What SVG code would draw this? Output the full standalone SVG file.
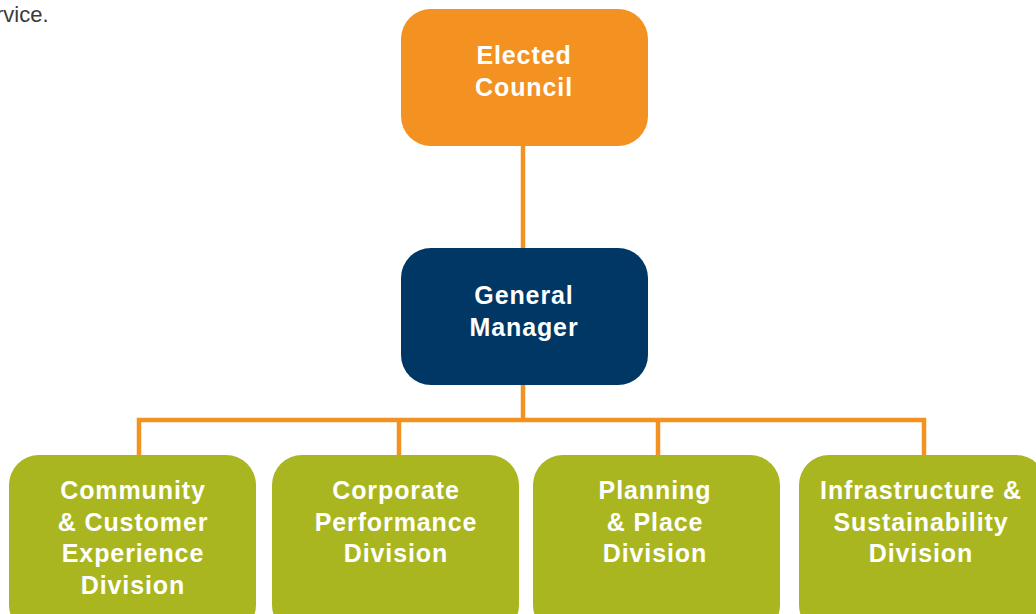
<svg xmlns="http://www.w3.org/2000/svg" width="1036" height="614" viewBox="0 0 1036 614">
<style>
.lbl{font-family:"Liberation Sans",Arial,sans-serif;font-weight:bold;font-size:25px;letter-spacing:0.9px;fill:#ffffff;text-anchor:middle}
.conn{stroke:#F39221;stroke-width:4.5;fill:none}
</style>
<rect width="1036" height="614" fill="#ffffff"/>
<text x="-4" y="22" style="font-family:'Liberation Sans',Arial,sans-serif;font-size:22px;fill:#3a3a3a">rvice.</text>
<g id="connectors">
<line class="conn" x1="523" y1="146" x2="523" y2="248"/>
<line class="conn" x1="523" y1="385" x2="523" y2="420"/>
<polyline class="conn" points="139,455 139,420 924,420 924,455"/>
<line class="conn" x1="399" y1="420" x2="399" y2="455"/>
<line class="conn" x1="658" y1="420" x2="658" y2="455"/>
</g>
<g id="elected-council">
<rect x="401" y="9" width="247" height="137" rx="30" fill="#F39221"/>
<text class="lbl" x="524" y="64">Elected</text>
<text class="lbl" x="524" y="96">Council</text>
</g>
<g id="general-manager">
<rect x="401" y="248" width="247" height="137" rx="30" fill="#003764"/>
<text class="lbl" x="524" y="304">General</text>
<text class="lbl" x="524" y="336">Manager</text>
</g>
<g id="community">
<rect x="9" y="455" width="247" height="180" rx="30" fill="#AAB620"/>
<text class="lbl" x="133" y="499">Community</text>
<text class="lbl" x="133" y="531">&amp; Customer</text>
<text class="lbl" x="133" y="562">Experience</text>
<text class="lbl" x="133" y="594">Division</text>
</g>
<g id="corporate">
<rect x="272" y="455" width="247" height="180" rx="30" fill="#AAB620"/>
<text class="lbl" x="396" y="499">Corporate</text>
<text class="lbl" x="396" y="531">Performance</text>
<text class="lbl" x="396" y="562">Division</text>
</g>
<g id="planning">
<rect x="533" y="455" width="247" height="180" rx="30" fill="#AAB620"/>
<text class="lbl" x="655" y="499">Planning</text>
<text class="lbl" x="655" y="531">&amp; Place</text>
<text class="lbl" x="655" y="562">Division</text>
</g>
<g id="infrastructure">
<rect x="799" y="455" width="247" height="180" rx="30" fill="#AAB620"/>
<text class="lbl" x="921" y="499">Infrastructure &amp;</text>
<text class="lbl" x="921" y="531">Sustainability</text>
<text class="lbl" x="921" y="562">Division</text>
</g>
</svg>
